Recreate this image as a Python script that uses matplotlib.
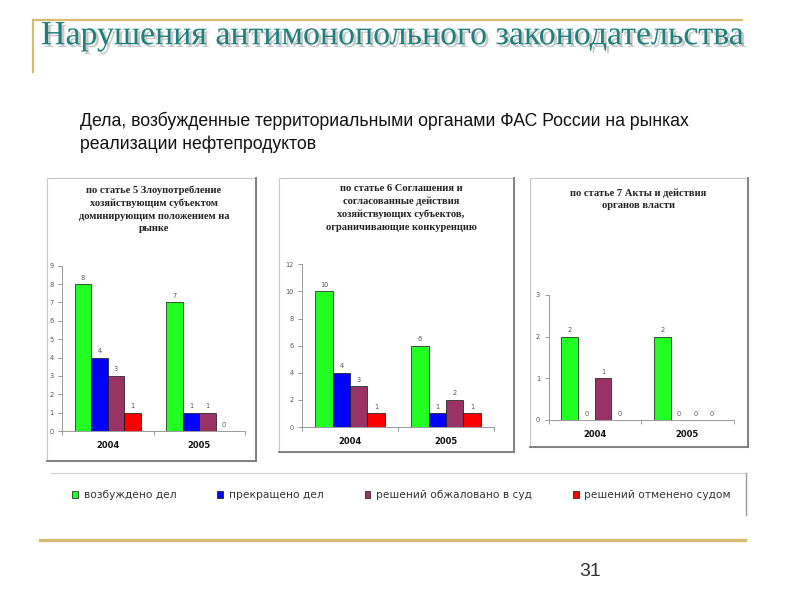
import matplotlib
matplotlib.use("Agg")
import matplotlib.pyplot as plt
import matplotlib.patheffects as pe
from matplotlib.lines import Line2D
from matplotlib.patches import Rectangle
import numpy as np

# ---- data ----
categories = ["2004", "2005"]
series_names = ["возбуждено дел", "прекращено дел", "решений обжаловано в суд", "решений отменено судом"]
series_colors = ["#22ff22", "#0000ff", "#993366", "#ff0000"]

art5_initiated = [8, 7]
art5_terminated = [4, 1]
art5_appealed = [3, 1]
art5_cancelled = [1, 0]

art6_initiated = [10, 6]
art6_terminated = [4, 1]
art6_appealed = [3, 2]
art6_cancelled = [1, 1]

art7_initiated = [2, 2]
art7_terminated = [0, 0]
art7_appealed = [1, 0]
art7_cancelled = [0, 0]

title_main = "Нарушения антимонопольного законодательства"
subtitle = "Дела, возбужденные территориальными органами ФАС России на рынках\nреализации нефтепродуктов"
panel_titles = [
    "по статье 5 Злоупотребление\nхозяйствующим субъектом\nдоминирующим положением на\nрынке",
    "по статье 6 Соглашения и\nсогласованные действия\nхозяйствующих субъектов,\nограничивающие конкуренцию",
    "по статье 7 Акты и действия\nорганов власти",
]
page_number = "31"

W, H = 800, 600
fig = plt.figure(figsize=(8, 6), dpi=100)
fig.patch.set_facecolor("white")

def fx(x):
    return x / W

def fy(y):
    return 1 - y / H

gold = "#d6bb72"
# decorative lines
fig.add_artist(Line2D([fx(33), fx(742)], [fy(20), fy(20)], color=gold, lw=1.6))
fig.add_artist(Line2D([fx(33), fx(33)], [fy(20), fy(72)], color=gold, lw=1.6))
fig.add_artist(Line2D([fx(40), fx(745)], [fy(540), fy(540)], color=gold, lw=2.4))

fig.text(fx(41), fy(36), title_main, fontsize=24.4, family="Liberation Serif",
         color="#1e7f7c", ha="left", va="center",
         path_effects=[pe.SimplePatchShadow(offset=(2, -2), shadow_rgbFace="#888888", alpha=0.45), pe.Normal()])

fig.text(fx(80), fy(132), subtitle, fontsize=12.7, family="Liberation Sans", color="#111111",
         ha="left", va="center", linespacing=1.4)

fig.text(fx(590), fy(571), page_number, fontsize=14, family="Liberation Sans", color="#333333",
         ha="center", va="center")

# panel boxes
def panel_box(x0, y0, x1, y1):
    fig.add_artist(Rectangle((fx(x0), fy(y1)), (x1 - x0) / W, (y1 - y0) / H,
                             transform=fig.transFigure, fill=False, edgecolor="#c8c8c8", lw=0.8))
    fig.add_artist(Line2D([fx(x1), fx(x1)], [fy(y0), fy(y1)], color="#7a7a7a", lw=1.3))
    fig.add_artist(Line2D([fx(x0), fx(x1)], [fy(y1), fy(y1)], color="#7a7a7a", lw=1.3))

panel_box(47, 178, 256, 461)
panel_box(279, 178, 514, 452)
panel_box(530, 178, 748, 447)

# legend box (top and right edges)
fig.add_artist(Line2D([fx(51), fx(746)], [fy(473), fy(473)], color="#d0d0d0", lw=0.9))
fig.add_artist(Line2D([fx(746), fx(746)], [fy(473), fy(515)], color="#9a9a9a", lw=1.0))

panels = [
    dict(rect=(62, 265.7, 245, 431), ymax=9, yticks=range(0, 10),
         data=[art5_initiated, art5_terminated, art5_appealed, art5_cancelled],
         title_xy=(154, 185.5)),
    dict(rect=(302, 264.3, 494, 427), ymax=12, yticks=range(0, 13, 2),
         data=[art6_initiated, art6_terminated, art6_appealed, art6_cancelled],
         title_xy=(401, 183.5)),
    dict(rect=(548.5, 295, 733.5, 420), ymax=3, yticks=range(0, 4),
         data=[art7_initiated, art7_terminated, art7_appealed, art7_cancelled],
         title_xy=(638, 188)),
]

bar_w = 0.18
offsets = (np.arange(4) - 1.5) * bar_w
x = np.arange(len(categories))
handles = []
for i, p in enumerate(panels):
    l, t, r, b = p["rect"]
    ax = fig.add_axes([fx(l), fy(b), (r - l) / W, (b - t) / H])
    for k, vals in enumerate(p["data"]):
        cont = ax.bar(x + offsets[k], vals, bar_w, color=series_colors[k],
                      edgecolor="#111111", linewidth=0.5, label=series_names[k])
        ax.bar_label(cont, padding=2.5, fontsize=4.8, color="#555555")
        if i == 0:
            handles.append(cont)
    ax.set_xlim(-0.5, len(categories) - 0.5)
    ax.set_ylim(0, p["ymax"])
    ax.set_yticks(list(p["yticks"]))
    ax.set_xticks(x)
    ax.set_xticklabels(categories, fontsize=6, fontweight="bold", color="#111111")
    ax.set_xticks(np.arange(-0.5, len(categories), 1.0), minor=True)
    ax.tick_params(axis="x", which="major", length=0, pad=7)
    ax.tick_params(axis="x", which="minor", length=3, color="#888888", width=0.6)
    ax.tick_params(axis="y", length=3, color="#888888", width=0.6, labelsize=4.8,
                   labelcolor="#555555", pad=3)
    for s in ["top", "right"]:
        ax.spines[s].set_visible(False)
    for s in ["left", "bottom"]:
        ax.spines[s].set_color("#999999")
        ax.spines[s].set_linewidth(0.7)
    ax.patch.set_alpha(0)
    tx, ty = p["title_xy"]
    fig.text(fx(tx), fy(ty), panel_titles[i], fontsize=7.6, family="Liberation Serif",
             fontweight="bold", color="#222222", ha="center", va="top", linespacing=1.5)

fig.legend(handles=handles, labels=series_names, loc="center left",
           bbox_to_anchor=(fx(67), fy(495.5)), ncol=4, frameon=False,
           fontsize=7.7, handlelength=0.55, handleheight=0.55, handletextpad=0.5,
           columnspacing=3.85, borderpad=0, labelcolor="#333333")

fig.savefig("out.png", dpi=100, facecolor="white")
